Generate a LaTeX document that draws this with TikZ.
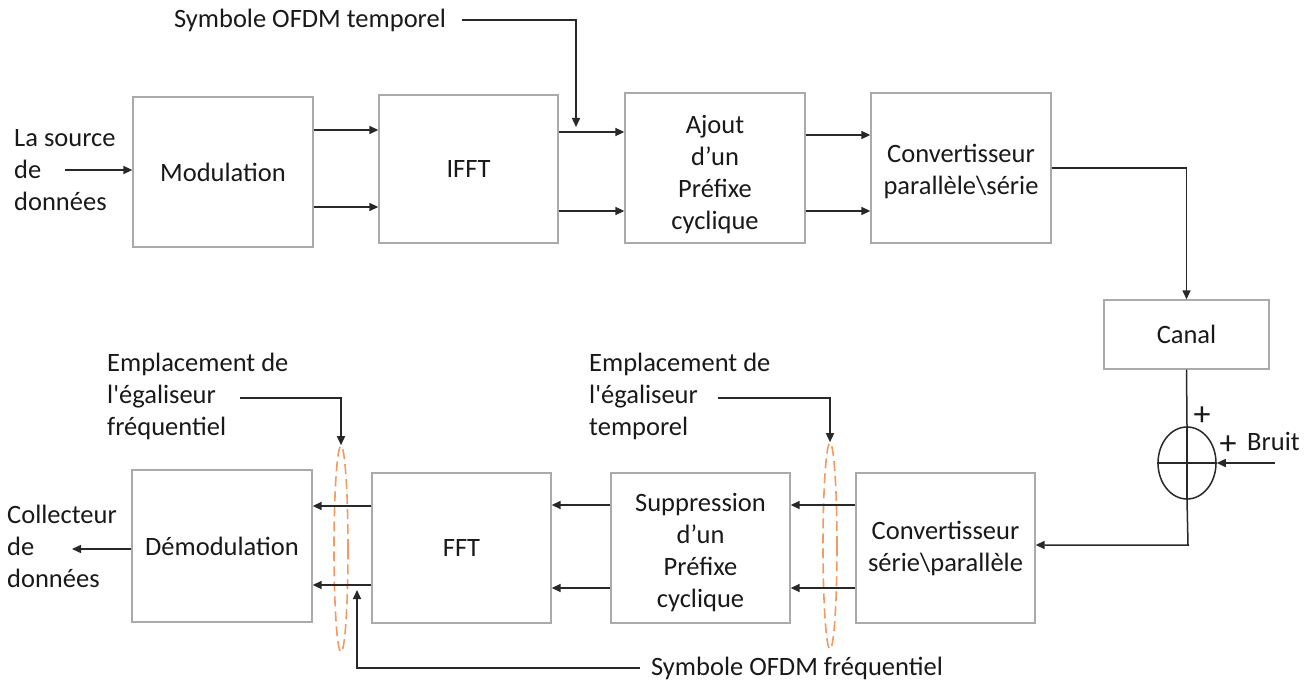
\documentclass[tikz,border=0pt]{standalone}
\usepackage{fontspec}
\newfontfamily\carl{Carlito}
\usetikzlibrary{arrows.meta,shapes.geometric}
\definecolor{boxgray}{RGB}{170,170,170}
\definecolor{linec}{RGB}{40,40,40}
\definecolor{eqorange}{RGB}{241,154,99}
\definecolor{txt}{RGB}{25,25,25}
\tikzset{
  every node/.style={font=\carl\fontsize{26.5}{32}\selectfont, text=txt, inner sep=0pt},
  blk/.style={draw=boxgray, line width=1.3pt, align=center},
  arr/.style={draw=linec, line width=1.5pt, -{Triangle[length=9pt,width=8pt]}},
  ln/.style={draw=linec, line width=1.5pt},
  eqz/.style={ellipse, draw=eqorange, line width=1.6pt, dash pattern=on 10pt off 5pt, minimum width=14pt, minimum height=206pt},
  lbl/.style={align=left, anchor=west},
  pls/.style={font=\carl\fontsize{34}{34}\selectfont}
}
\begin{document}
\begin{tikzpicture}[x=1pt,y=-1pt]
\useasboundingbox (0,0) rectangle (1311,684);
% top row
\node[blk, minimum width=180pt, minimum height=150pt] (mod) at (223,172) {Modulation};
\node[blk, minimum width=179pt, minimum height=148pt] (ifft) at (468.5,169) {IFFT};
\node[blk, minimum width=180pt, minimum height=150pt] (ajout) at (715,168) {\rule{0pt}{31pt}Ajout\\d’un\\Préfixe\\cyclique};
\node[blk, minimum width=180pt, minimum height=150pt] (cps) at (961,168) {\rule{0pt}{25pt}Convertisseur\\parallèle\textbackslash série};
\node[blk, minimum width=165pt, minimum height=69pt] (canal) at (1186.5,334.5) {Canal};
\node[ellipse, draw=linec, line width=1.5pt, minimum width=58pt, minimum height=72pt] (add) at (1187,463) {};
% bottom row
\node[blk, minimum width=179pt, minimum height=150pt] (csp) at (945.5,548) {Convertisseur\\série\textbackslash parallèle};
\node[blk, minimum width=179pt, minimum height=150pt] (supp) at (700.5,548) {\rule{0pt}{27pt}Suppression\\d’un\\Préfixe\\cyclique};
\node[blk, minimum width=179pt, minimum height=150pt] (fft) at (461.5,548) {FFT};
\node[blk, minimum width=180pt, minimum height=152pt] (demod) at (222,546) {Démodulation};
% equaliser ellipses
\node[eqz] (eqL) at (341,549) {};
\node[eqz] (eqR) at (830,546) {};
% labels
\node[lbl] (src) at (14,170) {La source\\de\\données};
\node[lbl] (col) at (7,546) {Collecteur\\de\\données};
\node[lbl] (emL) at (107,396) {Emplacement de\\l'égaliseur\\fréquentiel};
\node[lbl] (emR) at (589,396) {Emplacement de\\l'égaliseur\\temporel};
\node (symT) at (310,20) {Symbole OFDM temporel};
\node (symF) at (797,668) {Symbole OFDM fréquentiel};
\node[pls] (p1) at (1202,416) {+};
\node[pls] (p2) at (1228,445) {+};
\node[anchor=west] (bruit) at (1247,441) {Bruit};
% coordinates
\coordinate (srcA) at (65,170);
\coordinate (colA) at (72,549);
\coordinate (symTs) at (462,20);
\coordinate (symTe) at (576,127);
\coordinate (symFs) at (640,668);
\coordinate (symFe) at (357,590);
\coordinate (emLs) at (240,398);
\coordinate (emRs) at (718,398);
\coordinate (bruitS) at (1275,463);
\coordinate (turn) at (1188,545);
% top connectors
\draw[arr] (srcA) -- (mod.west |- srcA);
\draw[arr] (mod.east |- 0,130) -- (ifft.west |- 0,130);
\draw[arr] (mod.east |- 0,207) -- (ifft.west |- 0,207);
\draw[arr] (ifft.east |- 0,132) -- (ajout.west |- 0,132);
\draw[arr] (ifft.east |- 0,211) -- (ajout.west |- 0,211);
\draw[arr] (ajout.east |- 0,135) -- (cps.west |- 0,135);
\draw[arr] (ajout.east |- 0,211) -- (cps.west |- 0,211);
\draw[arr] (symTs) -| (symTe);
\draw[arr] (cps.east |- 0,168) -| (canal.north);
\draw[ln] (canal.south) -- (add.north);
\draw[ln] (add.north) -- (add.south);
\draw[ln] (add.west) -- (add.east);
\draw[arr] (bruitS) -- (add.east);
\draw[arr] (add.south) -- (turn) -- (csp.east |- turn);
% bottom connectors
\draw[arr] (csp.west |- 0,505) -- (supp.east |- 0,505);
\draw[arr] (csp.west |- 0,588) -- (supp.east |- 0,588);
\draw[arr] (supp.west |- 0,505) -- (fft.east |- 0,505);
\draw[arr] (supp.west |- 0,588) -- (fft.east |- 0,588);
\draw[arr] (fft.west |- 0,506) -- (demod.east |- 0,506);
\draw[arr] (fft.west |- 0,585) -- (demod.east |- 0,585);
\draw[arr] (demod.west |- colA) -- (colA);
\draw[arr] (symFs) -| (symFe);
\draw[arr] (emLs) -| (eqL.north);
\draw[arr] (emRs) -| (eqR.north);
\end{tikzpicture}
\end{document}
